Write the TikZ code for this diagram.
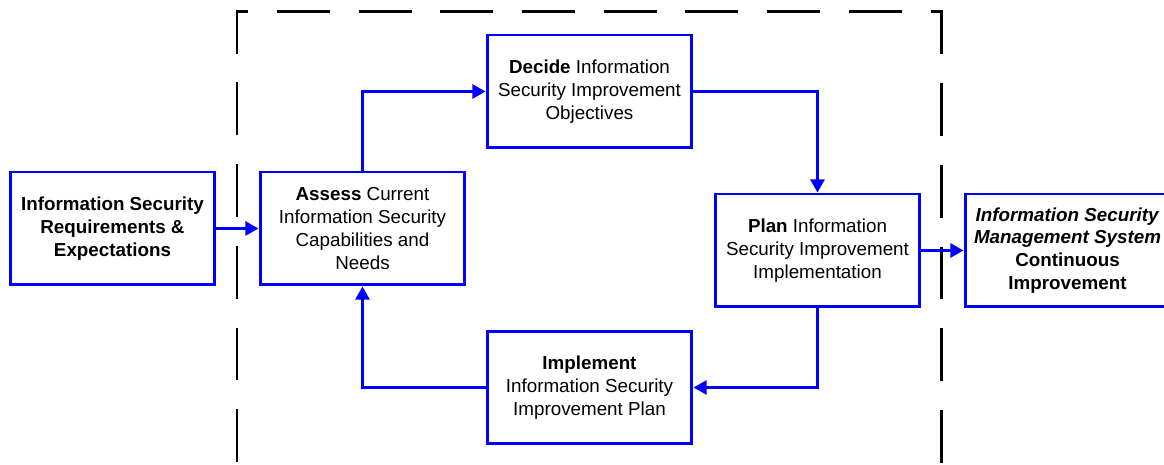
\documentclass[tikz,border=0pt]{standalone}
\usepackage{fontspec}
\setmainfont{Liberation Sans}
\usepackage{tikz}
\usetikzlibrary{arrows.meta,positioning}

\begin{document}
\begin{tikzpicture}[x=0.02cm, y=-0.02cm,
    stage/.style={draw=blue, line width=1.7pt, rectangle, minimum width=4.1cm,
      minimum height=2.26cm, inner sep=0pt, align=center, text=black,
      font=\fontsize{10.7}{13}\selectfont},
    flow/.style={draw=blue, line width=1.7pt, -{Triangle[length=7.5pt,width=8pt]}},
    frame/.style={draw=black, line width=1.7pt,
      dash pattern=on 30.05pt off 16.44pt, dash phase=41.95pt}]
  \useasboundingbox (0,0) rectangle (1164,465);

  % scope of the improvement cycle
  \draw[frame] (237,470) |- (941,12) -- (941,470);

  % stages
  \node[stage, font=\fontsize{10.7}{13}\selectfont\bfseries] (req) at (112.5,228.5)
    {Information Security\\Requirements \&\\Expectations};
  \node[stage] (assess) at (362.5,228.5)
    {\textbf{Assess} Current\\Information Security\\Capabilities and\\Needs};
  \node[stage] (decide) at (589.5,91.5)
    {\textbf{Decide} Information\\Security Improvement\\Objectives};
  \node[stage] (plan) at (817.5,250.5)
    {\textbf{Plan} Information\\Security Improvement\\Implementation};
  \node[stage, font=\fontsize{10.7}{13}\selectfont\bfseries] (isms) at (1067.5,250.5)
    {\textit{Information Security}\\\textit{Management System}\\Continuous\\Improvement};
  \node[stage] (implement) at (589.5,387.5)
    {\textbf{Implement}\\Information Security\\Improvement Plan};

  % flow between stages
  \draw[flow] (req) -- (assess);
  \draw[flow] (assess.north) |- (decide.west);
  \draw[flow] (decide.east) -| (plan.north);
  \draw[flow] (plan) -- (isms);
  \draw[flow] (plan.south) |- (implement.east);
  \draw[flow] (implement.west) -| (assess.south);
\end{tikzpicture}
\end{document}
